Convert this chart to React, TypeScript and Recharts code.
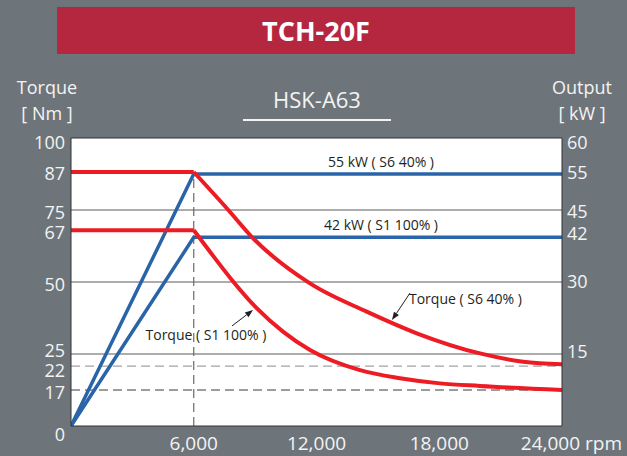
import React from "react";
import {
  LineChart,
  Line,
  XAxis,
  YAxis,
  CartesianGrid,
  ReferenceLine,
  ReferenceDot,
} from "recharts";

// tick values sit where the sheet prints its labels; labels are the printed numbers
const rpmTicks = [6000, 12000, 18000, 24000];
const torqueTicks = [0, 11.5, 19.2, 26.1, 49, 67, 74, 87.5, 98.3];
const torqueTickLabels = ["0", "17", "22", "25", "50", "67", "75", "87", "100"];
const outputTicks = [15.4, 30, 40, 44.6, 52.7, 59];
const outputTickLabels = ["15", "30", "42", "45", "55", "60"];

const solidGrid = [25, 50, 75, 100];
const dashedGrid = [
  { y: 20.8, color: "#8a8a8a" },
  { y: 12.5, color: "#3a3a3a" },
];
const baseSpeed = 6000;

// torque (left axis)
const s6TorqueFlat = [
  { rpm: 0, v: 88.2 },
  { rpm: 6000, v: 88.2 },
];
const s6TorqueCurve = [
  { rpm: 6000, v: 88.2 },
  { rpm: 7690, v: 75.0 },
  { rpm: 8833, v: 65.7 },
  { rpm: 11683, v: 49.5 },
  { rpm: 14454, v: 39.7 },
  { rpm: 16898, v: 32.2 },
  { rpm: 19992, v: 25.2 },
  { rpm: 22109, v: 22.3 },
  { rpm: 24000, v: 21.4 },
];
const s1TorqueFlat = [
  { rpm: 0, v: 68 },
  { rpm: 6000, v: 68 },
];
const s1TorqueCurve = [
  { rpm: 6000, v: 68 },
  { rpm: 6794, v: 60.5 },
  { rpm: 7933, v: 50.1 },
  { rpm: 9077, v: 40.9 },
  { rpm: 10377, v: 32.7 },
  { rpm: 11683, v: 26.4 },
  { rpm: 14127, v: 19.4 },
  { rpm: 16082, v: 16.6 },
  { rpm: 18037, v: 14.8 },
  { rpm: 19992, v: 13.9 },
  { rpm: 24000, v: 12.5 },
];

// output (right axis)
const s6Output = [
  { rpm: 0, v: 0 },
  { rpm: 6000, v: 52.5 },
  { rpm: 24000, v: 52.5 },
];
const s1Output = [
  { rpm: 0, v: 0 },
  { rpm: 6000, v: 39.3 },
  { rpm: 24000, v: 39.3 },
];

const FONT = "'Open Sans', 'Noto Sans', sans-serif";
const BG = "#6e757a";
const RED = "#ed1c24";
const BLUE = "#2a64a8";
const LIGHT = "#f3f3f3";
const INK = "#231f20";

function RpmTick({ x, y, payload }: any) {
  const last = payload.value === 24000;
  return (
    <text
      x={last ? x + 60 : x}
      y={y}
      dy={14}
      textAnchor={last ? "end" : "middle"}
      fill={LIGHT}
      fontSize={19}
      fontFamily={FONT}
    >
      {Number(payload.value).toLocaleString("en-US")}
      {last ? " rpm" : ""}
    </text>
  );
}

function TorqueTick({ x, y, payload }: any) {
  const label = torqueTickLabels[torqueTicks.indexOf(payload.value)];
  return (
    <text
      x={x}
      y={y}
      dy={payload.value === 0 ? "0.85em" : "0.355em"}
      textAnchor="end"
      fill={LIGHT}
      fontSize={18}
      fontFamily={FONT}
    >
      {label}
    </text>
  );
}

function Note({ cx, cy, tail, text, textAt, anchor }: any) {
  const tx = cx + tail[0];
  const ty = cy + tail[1];
  const len = Math.hypot(cx - tx, cy - ty);
  const ux = (cx - tx) / len;
  const uy = (cy - ty) / len;
  const bx = cx - ux * 8;
  const by = cy - uy * 8;
  const head = `${cx},${cy} ${bx - uy * 3},${by + ux * 3} ${bx + uy * 3},${by - ux * 3}`;
  return (
    <g>
      <line x1={tx} y1={ty} x2={bx} y2={by} stroke={INK} strokeWidth={1} />
      <polygon points={head} fill={INK} />
      <text
        x={cx + textAt[0]}
        y={cy + textAt[1]}
        dy="0.35em"
        textAnchor={anchor}
        fill={INK}
        fontSize={14}
        fontFamily={FONT}
      >
        {text}
      </text>
    </g>
  );
}

function PowerLabel({ cx, cy, text }: any) {
  return (
    <text x={cx} y={cy - 7} textAnchor="middle" fill={INK} fontSize={14} fontFamily={FONT}>
      {text}
    </text>
  );
}

export default function App() {
  return (
    <div
      style={{
        position: "absolute",
        left: 0,
        top: 0,
        width: 627,
        height: 456,
        background: BG,
        fontFamily: FONT,
        color: LIGHT,
        overflow: "hidden",
      }}
    >
      <div
        style={{
          position: "absolute",
          left: 57,
          top: 7,
          width: 518,
          height: 47,
          background: "#b5273f",
          color: "#fff",
          fontWeight: 700,
          fontSize: 27,
          lineHeight: "47px",
          textAlign: "center",
        }}
      >
        TCH-20F
      </div>

      <div style={{ position: "absolute", left: 0, width: 94, top: 74, textAlign: "center", fontSize: 18, lineHeight: "26px" }}>
        Torque
        <br />[ Nm ]
      </div>
      <div style={{ position: "absolute", left: 537, width: 90, top: 74, textAlign: "center", fontSize: 18, lineHeight: "26px" }}>
        Output
        <br />[ kW ]
      </div>
      <div style={{ position: "absolute", left: 243, width: 148, top: 84, textAlign: "center", fontSize: 22, lineHeight: "30px" }}>
        HSK-A63
      </div>
      <div style={{ position: "absolute", left: 243, width: 148, top: 119, height: 1.5, background: LIGHT }} />

      <div style={{ position: "absolute", left: 0, top: 0 }}>
        <LineChart width={627} height={456} margin={{ top: 138, right: 0, bottom: 0, left: 0 }}>
          <CartesianGrid fill="#ffffff" horizontal={false} vertical={false} />
          <XAxis
            type="number"
            dataKey="rpm"
            domain={[0, 24000]}
            ticks={rpmTicks}
            height={30}
            tickSize={0}
            tickMargin={10}
            axisLine={{ stroke: "#333" }}
            tick={<RpmTick />}
            allowDataOverflow
          />
          <YAxis
            yAxisId="left"
            type="number"
            domain={[0, 100]}
            ticks={torqueTicks}
            width={71}
            tickSize={0}
            tickMargin={6}
            axisLine={{ stroke: "#333" }}
            tick={<TorqueTick />}
            interval={0}
          />
          <YAxis
            yAxisId="right"
            orientation="right"
            type="number"
            domain={[0, 60]}
            ticks={outputTicks}
            width={65}
            tickSize={0}
            tickMargin={5}
            axisLine={{ stroke: "#333" }}
            tick={{ fill: LIGHT, fontSize: 18, fontFamily: FONT, textAnchor: "start" }}
            tickFormatter={(v: number) => outputTickLabels[outputTicks.indexOf(v)]}
            interval={0}
          />

          {solidGrid.map((y) => (
            <ReferenceLine key={y} yAxisId="left" y={y} stroke={y === 100 ? "#333" : "#5a5a5a"} strokeWidth={1} />
          ))}
          {dashedGrid.map((g) => (
            <ReferenceLine key={g.y} yAxisId="left" y={g.y} stroke={g.color} strokeWidth={1} strokeDasharray="9 5" />
          ))}
          <ReferenceLine
            yAxisId="left"
            segment={[
              { x: baseSpeed, y: 0 },
              { x: baseSpeed, y: 88.2 },
            ]}
            stroke="#6a6a6a"
            strokeWidth={1.2}
            strokeDasharray="9 5"
          />

          <Line yAxisId="right" data={s6Output} dataKey="v" type="linear" stroke={BLUE} strokeWidth={3.5} dot={false} isAnimationActive={false} />
          <Line yAxisId="right" data={s1Output} dataKey="v" type="linear" stroke={BLUE} strokeWidth={3.5} dot={false} isAnimationActive={false} />
          <Line yAxisId="left" data={s6TorqueFlat} dataKey="v" type="linear" stroke={RED} strokeWidth={4} dot={false} isAnimationActive={false} />
          <Line yAxisId="left" data={s1TorqueFlat} dataKey="v" type="linear" stroke={RED} strokeWidth={4} dot={false} isAnimationActive={false} />
          <Line yAxisId="left" data={s6TorqueCurve} dataKey="v" type="monotone" stroke={RED} strokeWidth={4} dot={false} isAnimationActive={false} />
          <Line yAxisId="left" data={s1TorqueCurve} dataKey="v" type="monotone" stroke={RED} strokeWidth={4} dot={false} isAnimationActive={false} />

          <ReferenceDot
            yAxisId="right"
            x={15153}
            y={52.5}
            r={0}
            shape={(p: any) => <PowerLabel cx={p.cx} cy={p.cy} text="55 kW ( S6 40% )" />}
          />
          <ReferenceDot
            yAxisId="right"
            x={15153}
            y={39.3}
            r={0}
            shape={(p: any) => <PowerLabel cx={p.cx} cy={p.cy} text="42 kW ( S1 100% )" />}
          />
          <ReferenceDot
            yAxisId="left"
            x={8896}
            y={40.3}
            r={0}
            shape={(p: any) => (
              <Note cx={p.cx} cy={p.cy} tail={[-21, 16]} text="Torque ( S1 100% )" textAt={[-47, 25]} anchor="middle" />
            )}
          />
          <ReferenceDot
            yAxisId="left"
            x={15690}
            y={36.8}
            r={0}
            shape={(p: any) => (
              <Note cx={p.cx} cy={p.cy} tail={[18, -27]} text="Torque ( S6 40% )" textAt={[17, -21]} anchor="start" />
            )}
          />
        </LineChart>
      </div>
    </div>
  );
}
